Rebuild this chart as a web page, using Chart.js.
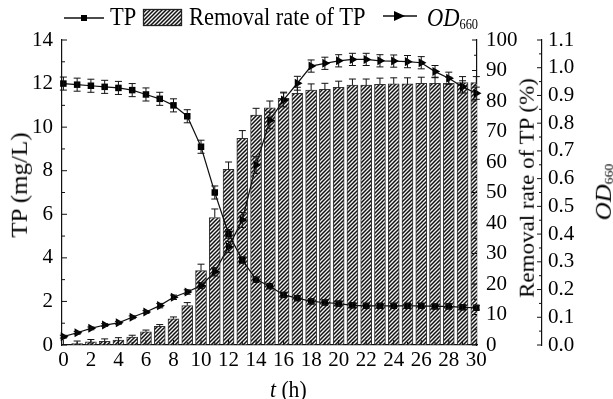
<!DOCTYPE html>
<html>
<head>
<meta charset="utf-8">
<script src="https://cdn.jsdelivr.net/npm/chart.js@4.4.1/dist/chart.umd.min.js"></script>
<style>
html, body { margin: 0; padding: 0; background: #fff; }
#wrap { position: relative; width: 613px; height: 399px; font-family: "Liberation Serif", "Times New Roman", serif; color: #000; overflow: hidden; }
#wrap canvas { position: absolute; left: 0; top: 0; }
.lbl { position: absolute; white-space: nowrap; line-height: 1; }
.h { transform-origin: 0 0; transform: scaleX(0.9); }
.rot { transform: translate(-50%, -50%) rotate(-90deg) scaleY(0.9); }
sub { font-size: 0.55em; vertical-align: baseline; position: relative; top: 0.25em; font-style: normal; }
</style>
</head>
<body>
<div id="wrap">
  <canvas id="myChart" width="613" height="399"></canvas>
  <span class="lbl h" style="left:110px;top:4px;font-size:25px;">TP</span>
  <span class="lbl h" style="left:189px;top:4px;font-size:25px;">Removal rate of TP</span>
  <span class="lbl h" style="left:427px;top:5px;font-size:25px;"><i>OD</i><sub>660</sub></span>
  <span class="lbl rot" style="left:19px;top:185px;font-size:25px;">TP (mg/L)</span>
  <span class="lbl rot" style="left:527px;top:188px;font-size:23px;">Removal rate of TP (%)</span>
  <span class="lbl rot" style="left:603px;top:192px;font-size:25px;"><i>OD</i><sub>660</sub></span>
  <span class="lbl h" style="left:270px;top:377px;font-size:24px;"><i>t</i> (h)</span>
</div>
<script>
// time points (h)
var hours = [0, 1, 2, 3, 4, 5, 6, 7, 8, 9, 10, 11, 12, 13, 14, 15, 16, 17, 18, 19, 20, 21, 22, 23, 24, 25, 26, 27, 28, 29, 30];

// TP concentration (mg/L)
var tp = [12.0, 11.95, 11.9, 11.85, 11.8, 11.7, 11.5, 11.3, 11.0, 10.5, 9.1, 7.0, 5.1, 3.9, 3.0, 2.7,
  2.3, 2.15, 2.0, 1.95, 1.9, 1.82, 1.8, 1.8, 1.8, 1.8, 1.8, 1.77, 1.77, 1.73, 1.71];
var tpErr = [0.3, 0.3, 0.3, 0.3, 0.3, 0.3, 0.3, 0.3, 0.3, 0.3, 0.3, 0.3, 0.2, 0.15, 0.1, 0.1,
  0.1, 0.1, 0.1, 0.1, 0.1, 0.1, 0.1, 0.1, 0.1, 0.1, 0.1, 0.1, 0.1, 0.1, 0.1];

// removal rate of TP (%)
var removal = [0, 0.5, 1.0, 1.2, 1.6, 2.6, 4.3, 6.1, 8.6, 12.9, 24.4, 41.8, 57.6, 67.8, 75.4, 77.8,
  80.9, 82.5, 83.6, 83.8, 84.5, 85.2, 85.2, 85.5, 85.6, 85.6, 85.8, 85.8, 85.8, 86.0, 86.0];
var removalErr = [0, 0.8, 0.8, 0.8, 0.8, 0.6, 0.6, 0.6, 0.6, 1.0, 2.1, 2.8, 2.4, 2.5, 2.2, 2.2,
  2.0, 2.0, 2.0, 2.0, 2.0, 2.0, 2.0, 2.0, 2.0, 2.0, 2.0, 2.0, 2.0, 2.0, 2.0];

// OD660
var od = [0.030, 0.044, 0.060, 0.072, 0.080, 0.100, 0.119, 0.142, 0.172, 0.191, 0.214, 0.264, 0.354, 0.451, 0.649, 0.810,
  0.884, 0.944, 1.006, 1.016, 1.025, 1.030, 1.030, 1.025, 1.024, 1.022, 1.018, 0.986, 0.962, 0.931, 0.908];
var odErr = [0.005, 0.005, 0.005, 0.005, 0.005, 0.005, 0.005, 0.008, 0.008, 0.008, 0.01, 0.015, 0.02, 0.027, 0.03, 0.03,
  0.025, 0.025, 0.022, 0.022, 0.022, 0.022, 0.022, 0.022, 0.022, 0.022, 0.022, 0.022, 0.022, 0.022, 0.022];

var xTicks = [0, 2, 4, 6, 8, 10, 12, 14, 16, 18, 20, 22, 24, 26, 28, 30];

var ctx = document.getElementById('myChart').getContext('2d');

function makeHatch() {
  var c = document.createElement('canvas');
  c.width = 4; c.height = 4;
  var g = c.getContext('2d');
  g.fillStyle = '#f4f4f4';
  g.fillRect(0, 0, 4, 4);
  g.strokeStyle = '#111';
  g.lineWidth = 1.5;
  g.beginPath();
  g.moveTo(0, 4); g.lineTo(4, 0);
  g.moveTo(-1, 1); g.lineTo(1, -1);
  g.moveTo(3, 5); g.lineTo(5, 3);
  g.stroke();
  return ctx.createPattern(c, 'repeat');
}
var hatch = makeHatch();

function toXY(vals) {
  return hours.map((h, i) => ({x: h, y: vals[i]}));
}

var tickFont = {family: '"Liberation Serif", "Times New Roman", serif', size: 21};

function fixedWidth(w) {
  return function (scale) { scale.width = w; };
}

// inward tick marks, error bars and legend symbols
var extras = {
  id: 'extras',
  afterDatasetsDraw(chart) {
    var c = chart.ctx;
    c.save();
    c.strokeStyle = '#111';
    c.lineWidth = 1;
    [[0, removal, removalErr, true], [1, tp, tpErr, false], [2, od, odErr, false]].forEach(function (s) {
      var meta = chart.getDatasetMeta(s[0]);
      var sc = chart.scales[meta.yAxisID];
      meta.data.forEach(function (el, j) {
        var e = s[2][j];
        if (!e) return;
        var top = sc.getPixelForValue(s[1][j] + e);
        var bot = s[3] ? sc.getPixelForValue(s[1][j]) : sc.getPixelForValue(s[1][j] - e);
        c.beginPath();
        c.moveTo(el.x, top); c.lineTo(el.x, bot);
        c.moveTo(el.x - 3.5, top); c.lineTo(el.x + 3.5, top);
        if (!s[3]) { c.moveTo(el.x - 3.5, bot); c.lineTo(el.x + 3.5, bot); }
        c.stroke();
      });
    });
    c.restore();
  },
  afterDraw(chart) {
    var c = chart.ctx;
    var a = chart.chartArea;
    c.save();
    c.strokeStyle = '#111';
    c.lineWidth = 1;
    c.beginPath();
    var y = chart.scales.y, y1 = chart.scales.y1, y2 = chart.scales.y2, x = chart.scales.x;
    for (var v = 0; v <= 14; v += 1) {
      var p = y.getPixelForValue(v);
      c.moveTo(a.left, p); c.lineTo(a.left + (v % 2 ? 3 : 5), p);
    }
    for (var v = 0; v <= 100; v += 5) {
      var p = y1.getPixelForValue(v);
      c.moveTo(a.right, p); c.lineTo(a.right - (v % 10 ? 3 : 5), p);
    }
    for (var k = 0; k <= 22; k++) {
      var p = y2.getPixelForValue(k * 0.05);
      c.moveTo(y2.left, p); c.lineTo(y2.left - (k % 2 ? 3 : 5), p);
    }
    for (var v = 0; v <= 30; v += 1) {
      var p = x.getPixelForValue(v);
      c.moveTo(p, a.bottom); c.lineTo(p, a.bottom - (v % 2 ? 3 : 5));
    }
    c.stroke();

    // legend symbols
    c.lineWidth = 1.3;
    c.beginPath();
    c.moveTo(64, 18); c.lineTo(104, 18);
    c.moveTo(383, 16); c.lineTo(417, 16);
    c.stroke();
    c.fillStyle = '#000';
    c.fillRect(81, 15, 6, 6);
    c.beginPath();
    c.moveTo(405, 16); c.lineTo(394, 11); c.lineTo(394, 21); c.closePath();
    c.fill();
    c.fillStyle = hatch;
    c.fillRect(143, 9, 38, 16);
    c.strokeStyle = '#222';
    c.strokeRect(143.5, 9.5, 38, 16);
    c.restore();
  }
};

var myChart = new Chart(ctx, {
  data: {
    datasets: [{
      type: 'bar',
      label: 'Removal rate of TP',
      data: toXY(removal),
      yAxisID: 'y1',
      backgroundColor: hatch,
      borderColor: '#333',
      borderWidth: 1,
      barThickness: 11,
      order: 3
    }, {
      type: 'line',
      label: 'TP',
      data: toXY(tp),
      yAxisID: 'y',
      borderColor: '#111',
      backgroundColor: '#000',
      borderWidth: 1.2,
      pointStyle: 'rect',
      pointRadius: 4.6,
      pointBorderWidth: 0,
      tension: 0,
      clip: false,
      order: 1
    }, {
      type: 'line',
      label: 'OD660',
      data: toXY(od),
      yAxisID: 'y2',
      borderColor: '#111',
      backgroundColor: '#000',
      borderWidth: 1.2,
      pointStyle: 'triangle',
      pointRotation: 90,
      pointRadius: 5.2,
      pointBorderWidth: 0,
      tension: 0,
      clip: false,
      order: 2
    }]
  },
  options: {
    responsive: false,
    animation: false,
    layout: {padding: {top: 40, left: 0, right: 0, bottom: 0}},
    plugins: {legend: {display: false}, tooltip: {enabled: false}},
    scales: {
      x: {
        type: 'linear',
        offset: false,
        min: -0.1,
        max: 30.05,
        afterBuildTicks: function (s) { s.ticks = xTicks.map(v => ({value: v})); },
        afterFit: function (s) { s.height = 54; },
        grid: {display: true, offset: false, drawOnChartArea: false, drawTicks: false},
        border: {display: true, color: '#111', width: 1.2},
        ticks: {font: tickFont, color: '#000', padding: 3, autoSkip: false, maxRotation: 0}
      },
      y: {
        position: 'left',
        min: 0, max: 14,
        afterFit: fixedWidth(62),
        grid: {display: true, drawOnChartArea: false, drawTicks: false},
        border: {display: true, color: '#111', width: 1.2},
        ticks: {stepSize: 2, font: tickFont, color: '#000', padding: 9, autoSkip: false}
      },
      y1: {
        position: 'right',
        weight: 0,
        min: 0, max: 100,
        afterFit: fixedWidth(65),
        grid: {display: true, drawOnChartArea: false, drawTicks: false},
        border: {display: true, color: '#111', width: 1.2},
        ticks: {stepSize: 10, font: tickFont, color: '#000', padding: 9, autoSkip: false}
      },
      y2: {
        position: 'right',
        weight: 1,
        min: 0, max: 1.1,
        afterFit: fixedWidth(71),
        grid: {display: true, drawOnChartArea: false, drawTicks: false},
        border: {display: true, color: '#111', width: 1.2},
        ticks: {
          stepSize: 0.1, font: tickFont, color: '#000', padding: 6, autoSkip: false,
          callback: function (v) { return v.toFixed(1); }
        }
      }
    }
  },
  plugins: [extras]
});
</script>
</body>
</html>
